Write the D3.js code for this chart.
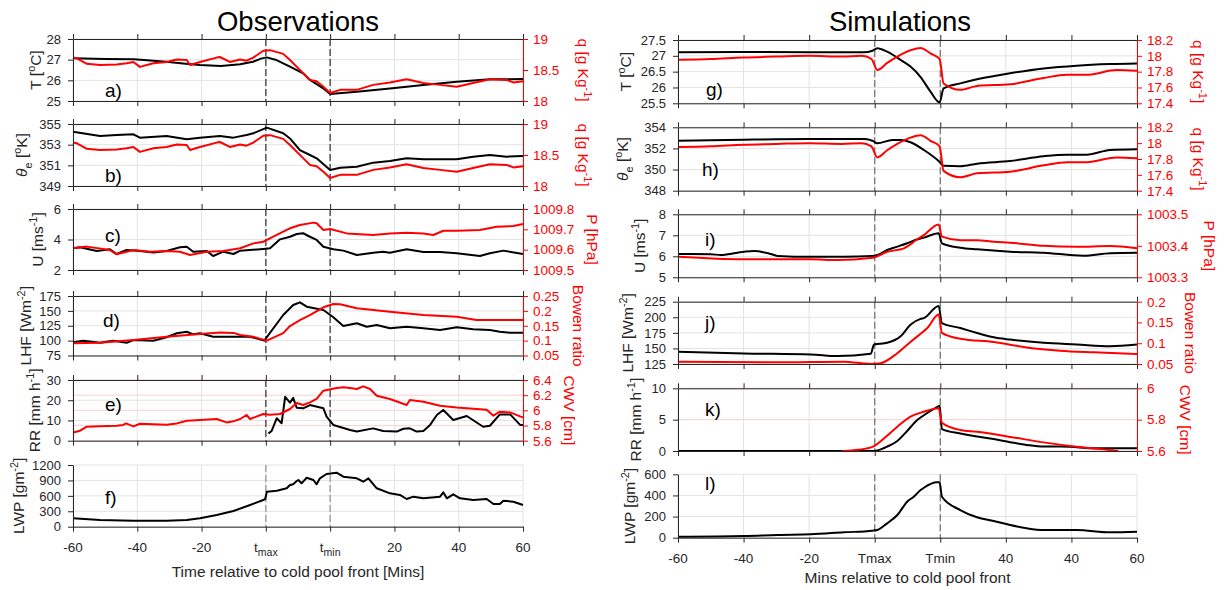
<!DOCTYPE html>
<html><head><meta charset="utf-8">
<script src="https://cdn.jsdelivr.net/npm/d3@7"></script>
<style>
body{margin:0;background:#fff}
text{font-family:"Liberation Sans",Arial,Helvetica,sans-serif}
</style>
</head><body><svg id="chart" width="1225" height="590"></svg>
<script>
// ---------------- DATA ----------------
const obsXTicks = [-60,-40,-20,0,20,40,60,80];
const obsXLabels = ["-60","-40","-20","t_{max}","t_{min}","20","40","60"];
const simXLabels = ["-60","-40","-20","Tmax","Tmin","40","40","60"];
const markerTimes = [0,20];

// Observations
const obsTemp = [[-60,27.07],[-50,27.03],[-41,27.02],[-31,26.9],[-25,26.8],[-20.5,26.74],[-14,26.69],[-8,26.78],[-4,26.9],[-1.5,27.05],[0.3,27.11],[3,27.0],[5.4,26.82],[7.5,26.66],[11.6,26.34],[13.7,26.02],[17.9,25.61],[20,25.34],[28.3,25.45],[38.6,25.61],[49,25.77],[59.4,25.93],[69.7,26.05],[80,26.06]];
const obsQ = [[-60,18.70],[-58.9,18.69],[-55.7,18.60],[-51.6,18.58],[-46.4,18.59],[-43.3,18.61],[-41.2,18.63],[-39.2,18.55],[-35,18.61],[-30.9,18.63],[-27.7,18.67],[-24.6,18.66],[-23.6,18.58],[-20.5,18.63],[-15.3,18.70],[-14.3,18.71],[-11.2,18.63],[-8,18.67],[-6,18.65],[-3.9,18.70],[-0.8,18.81],[1.3,18.82],[5.4,18.76],[7.5,18.66],[11.6,18.45],[13.7,18.34],[15.8,18.32],[17.9,18.23],[20,18.13],[23.1,18.18],[28.3,18.18],[33.4,18.26],[38.6,18.30],[43.8,18.35],[49,18.29],[54.2,18.26],[59.4,18.23],[64.5,18.29],[69.7,18.35],[74.9,18.34],[77,18.30],[80,18.32]];
const obsTheta = [[-60,354.26],[-51.6,353.84],[-46.4,353.94],[-41.2,354.0],[-39.2,353.68],[-30.9,353.84],[-24.6,353.52],[-20.5,353.68],[-14.3,353.84],[-10.1,353.68],[-6,353.94],[-3.9,354.1],[0.3,354.65],[5.4,354.1],[7.5,353.6],[10.6,352.48],[13.7,352.0],[15.8,351.68],[20,350.55],[23.1,350.77],[28.3,350.87],[33.4,351.26],[38.6,351.42],[43.8,351.68],[49,351.58],[54.2,351.58],[59.4,351.58],[64.5,351.84],[69.7,352.0],[74.9,351.84],[80,351.9]];
const obsU = [[-60,3.42],[-57.8,3.49],[-52.6,3.25],[-48.5,3.36],[-46.4,3.05],[-43.3,3.31],[-39.2,3.25],[-35,3.14],[-30.9,3.25],[-26.7,3.49],[-24.6,3.53],[-22.6,3.2],[-18.4,3.25],[-16.4,2.92],[-13.2,3.2],[-10.1,3.05],[-8,3.27],[-0.8,3.38],[1.3,3.42],[4.4,4.01],[7.5,4.18],[9.6,4.36],[11.6,4.41],[13.7,4.18],[15.8,3.97],[17.9,3.53],[21,3.36],[24.1,3.27],[28.3,2.98],[33.4,3.13],[36.5,3.2],[38.6,3.13],[43.8,3.36],[49,3.18],[54.2,3.18],[59.4,3.1],[66.6,2.92],[69.7,3.1],[73.9,3.27],[80,3.05]];
const obsP = [[-60,1009.607],[-55.7,1009.615],[-48.5,1009.598],[-46.4,1009.577],[-41.2,1009.598],[-36,1009.590],[-30.9,1009.593],[-26.7,1009.590],[-23.6,1009.574],[-18.4,1009.590],[-13.2,1009.593],[-8,1009.607],[-3.9,1009.631],[-0.8,1009.639],[2.3,1009.664],[6.5,1009.697],[7.5,1009.705],[10.6,1009.721],[14.8,1009.733],[15.8,1009.730],[17.9,1009.697],[20,1009.702],[25.2,1009.680],[33.4,1009.672],[38.6,1009.680],[43.8,1009.683],[49,1009.680],[52.1,1009.672],[55.2,1009.693],[59.4,1009.693],[66.6,1009.697],[71.8,1009.713],[77,1009.716],[80,1009.726]];
const obsLHF = [[-60,97.2],[-56.8,99.9],[-51.6,96.5],[-47.5,99.9],[-43.3,96.5],[-41.2,101],[-35,99.9],[-30.9,105.6],[-27.7,112.3],[-24.6,115],[-22.6,110.6],[-20.5,112.3],[-16.4,106.6],[-10.1,106.6],[-4.9,106.6],[-0.5,100],[5.4,143.1],[8.5,159.9],[10.6,164.4],[12.7,157],[17.9,151.5],[21,139.2],[24.1,124.6],[28.3,129.1],[31.4,123.4],[34.5,126.3],[38.6,120.7],[43.8,123.4],[49,120.7],[54.2,117.9],[59.4,122.4],[64.5,119],[69.7,117.9],[72.8,115],[76,113.3],[80,113.3]];
const obsBowen = [[-60,0.091],[-51.6,0.093],[-41.2,0.102],[-30.9,0.113],[-20.5,0.122],[-14.3,0.127],[-10,0.126],[-8,0.119],[-3.9,0.113],[0.3,0.1],[5.4,0.125],[7.5,0.149],[10.6,0.169],[13.7,0.186],[17.9,0.212],[21,0.223],[23.1,0.222],[28.3,0.209],[38.6,0.197],[49,0.186],[59.4,0.18],[65.5,0.169],[80,0.169]];
const obsRR = [[0.8,3.6],[1.8,4.8],[3.4,11.1],[4.9,8.6],[6,21.7],[7.5,18.8],[8.5,21.2],[9.6,16.3],[11.6,16.0],[13.7,17.6],[17.9,16.0],[18.9,11.9],[21,7.8],[26.2,5.3],[28.3,4.5],[33.4,6.1],[36.5,4.8],[40.7,4.5],[42.8,5.9],[44.8,6.1],[46.9,4.5],[49,4.8],[51.1,7.8],[53.2,12.7],[55.2,15.2],[58.3,10.2],[62.5,12.2],[67.6,6.9],[69.7,7.4],[72.8,13],[76,13],[79.1,7.8],[80,7.8]];
const obsCWV = [[-59.9,5.709],[-57.8,5.732],[-55.7,5.785],[-51.6,5.789],[-46.4,5.798],[-44.4,5.807],[-43.5,5.828],[-41.2,5.789],[-39.2,5.824],[-30.9,5.811],[-27.7,5.828],[-24.6,5.864],[-20.5,5.873],[-15.3,5.886],[-12.2,5.841],[-10.1,5.855],[-8,5.886],[-6,5.939],[-4.9,5.886],[-0.8,5.952],[1.3,5.943],[4.4,5.952],[7.5,6.018],[9.6,6.097],[11.6,6.071],[13.7,6.105],[15.8,6.15],[17.9,6.259],[22,6.294],[24.1,6.303],[26.2,6.294],[28.3,6.281],[30.3,6.316],[32.4,6.281],[34.5,6.193],[38.6,6.15],[43.8,6.071],[44.8,6.136],[49,6.114],[54.2,6.061],[59.4,6.039],[68.7,6.009],[70.8,5.93],[72.8,5.982],[76,5.973],[79.1,5.92],[80,5.907]];
const obsLWP = [[-60,163],[-51.6,130],[-41.2,117],[-30.9,117],[-24.6,130],[-20.5,163],[-15.3,228],[-10.1,305],[-4.9,422],[-0.8,519],[-0.2,540],[0.3,681],[3.4,700],[6.5,747],[7.5,811],[8.5,825],[9.6,889],[10.1,908],[11.1,844],[12.7,953],[14.8,908],[15.8,825],[16.8,941],[18.9,1025],[22,1050],[24.1,973],[28.3,941],[30.3,875],[31.9,941],[34.5,747],[38.6,649],[41.7,617],[43.8,539],[45.9,584],[49,552],[54.2,584],[55.2,669],[56.3,552],[58.3,630],[60.4,552],[64.5,519],[68.7,539],[70.8,441],[72.8,441],[73.9,506],[77,486],[80,422]];

// Simulations
const simT = [[-60,27.11],[-40,27.12],[-20,27.11],[-3.3,27.11],[-0.7,27.16],[0.8,27.24],[3.8,27.13],[7.9,26.87],[10.9,26.66],[14,26.33],[17,25.87],[19.8,25.53],[21,25.97],[26.1,26.13],[31.2,26.26],[41.3,26.45],[51.5,26.6],[61.6,26.69],[71.8,26.74],[80,26.76]];
const simQ = [[-60,17.95],[-50,17.96],[-40,17.98],[-30,17.99],[-20,18.0],[-10,17.99],[-4,18.0],[-1,17.96],[0.8,17.82],[3.8,17.91],[6.9,17.99],[10.9,18.07],[14,18.1],[17,18.03],[19.8,17.96],[21,17.65],[26.1,17.57],[31.2,17.62],[41.3,17.64],[51.5,17.72],[58.6,17.76],[64.7,17.76],[73.8,17.82],[80,17.81]];
const simTheta = [[-60,352.73],[-40,352.83],[-20,352.89],[-3,352.89],[-0.7,352.73],[0.8,352.49],[5.4,352.8],[7.9,352.8],[10.9,352.58],[15,351.85],[19.8,350.72],[21,350.35],[26.1,350.31],[31.2,350.56],[41.3,350.81],[51.5,351.26],[58.6,351.41],[64.7,351.41],[71.8,351.85],[80,351.92]];
const simU = [[-60,6.11],[-50,6.1],[-47,6.06],[-39.8,6.22],[-36.8,6.25],[-31.7,6.11],[-29.7,6.02],[-19.5,5.98],[-9.4,5.98],[-0.7,6.01],[0.8,6.06],[3.8,6.3],[6.9,6.46],[9.9,6.62],[12.9,6.8],[15,6.89],[19.5,7.1],[20.5,6.62],[26.1,6.41],[31.2,6.33],[41.3,6.22],[51.5,6.17],[63.7,6.03],[71.8,6.15],[80,6.17]];
const simP = [[-60,1003.365],[-39.8,1003.357],[-19.5,1003.357],[-11.4,1003.355],[-0.7,1003.362],[3.8,1003.381],[8.9,1003.392],[12.9,1003.42],[15,1003.434],[19.5,1003.468],[20.5,1003.429],[26.1,1003.418],[31.2,1003.418],[36.3,1003.413],[41.3,1003.41],[51.5,1003.40],[61.6,1003.397],[71.8,1003.399],[80,1003.392]];
const simLHF = [[-60,144.7],[-39.8,142],[-19.5,140.4],[-11.4,137.7],[-1.2,141.5],[-0.2,156.3],[3.8,159],[7.9,169.4],[10.9,188],[14,197.5],[15,198.6],[19.5,218.2],[20.5,190.7],[26.1,182.8],[31.2,174.8],[36.3,167.9],[41.3,164.2],[51.5,159],[61.6,156.3],[71.8,153.6],[80,156.3]];
const simBowen = [[-60,0.0556],[-29.7,0.054],[-9.4,0.0556],[-1.2,0.05],[1.8,0.052],[5.9,0.07],[10.9,0.103],[14,0.123],[16,0.136],[19.5,0.169],[20.5,0.125],[26.1,0.111],[36.3,0.103],[46.4,0.09],[56.6,0.082],[66.7,0.078],[80,0.074]];
const simRR = [[-60,0],[-0.7,0],[0.8,0.1],[3.8,0.7],[6.9,1.6],[9.9,3.2],[12.9,4.9],[15,5.7],[19,7.0],[19.8,7.2],[20.5,3.5],[26.1,2.8],[31.2,2.3],[36.3,1.9],[41.3,1.4],[46.4,0.96],[51.5,0.7],[56.6,0.7],[61.6,0.6],[66.7,0.43],[80,0.43]];
const simCWV = [[-9.9,5.6],[-5,5.608],[-0.7,5.626],[2.8,5.68],[6.9,5.755],[10.9,5.82],[15,5.85],[19.5,5.872],[20.5,5.78],[26.1,5.734],[31.2,5.723],[41.3,5.69],[51.5,5.655],[61.6,5.627],[71.8,5.606],[74.3,5.6]];
const simLWP = [[-60,9.5],[-39.8,16],[-29.7,26],[-19.5,32],[-9.4,51],[-0.7,66],[0.8,73],[3.8,136],[6.9,215],[9.9,341],[11.9,388],[14,451],[15,473],[19,524],[19.8,524],[20.5,388],[26.1,262],[31.2,193],[36.3,158],[41.3,120],[46.4,89],[51.5,73],[61.6,73],[71.8,51],[80,57]];

// tick values
const tkObsT=[25,26,27,28], tkObsQ=[18,18.5,19], tkObsTh=[349,351,353,355], tkObsU=[2,4,6], tkObsP=[1009.5,1009.6,1009.7,1009.8],
      tkObsLHF=[75,100,125,150,175], tkObsB=[0.05,0.1,0.15,0.2,0.25], tkObsRR=[0,10,20,30], tkObsCWV=[5.6,5.8,6,6.2,6.4], tkObsLWP=[0,300,600,900,1200];
const tkSimT=[25.5,26,26.5,27,27.5], tkSimQ=[17.4,17.6,17.8,18,18.2], tkSimTh=[348,350,352,354], tkSimU=[5,6,7,8], tkSimP=[1003.3,1003.4,1003.5],
      tkSimLHF=[125,150,175,200,225], tkSimB=[0.05,0.1,0.15,0.2], tkSimRR=[0,5,10], tkSimCWV=[5.6,5.8,6], tkSimLWP=[0,200,400,600];

// ---------------- LAYOUT ----------------
const cols = [
  {x0:73, x1:523, labels:obsXLabels, title:"Observations", titleX:298, xTitle:"Time relative to cold pool front [Mins]", xTitleY:577, dash:"#3c3c3c", smooth:false},
  {x0:678, x1:1137, labels:simXLabels, title:"Simulations", titleX:900, xTitle:"Mins relative to cold pool front", xTitleY:583, dash:"#777", smooth:true}
];
const panels = [
  {col:0,y0:39,y1:101,letter:"a)",lp:[105,97],L:{dom:[25,28],ticks:tkObsT,label:"T [^{o}C]",off:-32,data:obsTemp},R:{dom:[18,19],ticks:tkObsQ,label:"q [g Kg^{-1}]",off:55,data:obsQ}},
  {col:0,y0:124,y1:186,letter:"b)",lp:[105,182],L:{dom:[349,355],ticks:tkObsTh,label:"θ_{e} [^{o}K]",off:-46,data:obsTheta},R:{dom:[18,19],ticks:tkObsQ,label:"q [g Kg^{-1}]",off:55,data:obsQ}},
  {col:0,y0:209,y1:270,letter:"c)",lp:[105,242],L:{dom:[2,6],ticks:tkObsU,label:"U [ms^{-1}]",off:-30,data:obsU},R:{dom:[1009.5,1009.8],ticks:tkObsP,label:"P [hPa]",off:64,data:obsP}},
  {col:0,y0:296,y1:355.5,letter:"d)",lp:[103,327],L:{dom:[75,175],ticks:tkObsLHF,label:"LHF [Wm^{-2}]",off:-42,data:obsLHF},R:{dom:[0.05,0.25],ticks:tkObsB,label:"Bowen ratio",off:50,data:obsBowen}},
  {col:0,y0:380,y1:440.7,letter:"e)",lp:[105,411],L:{dom:[0,30],ticks:tkObsRR,label:"RR [mm h^{-1}]",off:-33,data:obsRR},R:{dom:[5.6,6.4],ticks:tkObsCWV,label:"CWV [cm]",off:41,data:obsCWV,grid:true}},
  {col:0,y0:465,y1:526.7,letter:"f)",lp:[105,504],last:true,L:{dom:[0,1200],ticks:tkObsLWP,label:"LWP [gm^{-2}]",off:-49,data:obsLWP},R:null},
  {col:1,y0:40,y1:103.3,letter:"g)",lp:[706,96],L:{dom:[25.5,27.5],ticks:tkSimT,label:"T [^{o}C]",off:-47,data:simT},R:{dom:[17.4,18.2],ticks:tkSimQ,label:"q [g Kg^{-1}]",off:56,data:simQ}},
  {col:1,y0:127.3,y1:190.7,letter:"h)",lp:[702,176],L:{dom:[348,354],ticks:tkSimTh,label:"θ_{e} [^{o}K]",off:-50,data:simTheta},R:{dom:[17.4,18.2],ticks:tkSimQ,label:"q [g Kg^{-1}]",off:56,data:simQ}},
  {col:1,y0:214.3,y1:277.3,letter:"i)",lp:[705,246],L:{dom:[5,8],ticks:tkSimU,label:"U [ms^{-1}]",off:-33,data:simU},R:{dom:[1003.3,1003.5],ticks:tkSimP,label:"P [hPa]",off:67,data:simP}},
  {col:1,y0:301.7,y1:364,letter:"j)",lp:[705,329],L:{dom:[125,225],ticks:tkSimLHF,label:"LHF [Wm^{-2}]",off:-45,data:simLHF},R:{dom:[0.05,0.2],ticks:tkSimB,label:"Bowen ratio",off:48,data:simBowen}},
  {col:1,y0:388.3,y1:451,letter:"k)",lp:[705,416],L:{dom:[0,10],ticks:tkSimRR,label:"RR [mm h^{-1}]",off:-37,data:simRR},R:{dom:[5.6,6],ticks:tkSimCWV,label:"CWV [cm]",off:43,data:simCWV,grid:true}},
  {col:1,y0:474.3,y1:537.7,letter:"l)",lp:[705,490],last:true,L:{dom:[0,600],ticks:tkSimLWP,label:"LWP [gm^{-2}]",off:-43,data:simLWP},R:null}
];

const AX="#262626", RED="#ff0000";
const svg = d3.select("#chart");
const fmt = d3.format("~g");

function rich(textSel, str, size, subScale){
  const sc = subScale || 0.7;
  const parts = str.split(/(\^\{[^}]*\}|_\{[^}]*\})/).filter(s=>s.length);
  let cur=0;
  parts.forEach(p=>{
    let t=p, sh=0, fs=size;
    if(p.startsWith("^{")){t=p.slice(2,-1); sh=-0.4*size; fs=size*sc;}
    else if(p.startsWith("_{")){t=p.slice(2,-1); sh=0.35*size; fs=size*sc;}
    const ts=textSel.append("tspan").attr("font-size",fs).attr("dy",sh-cur).text(t);
    if(t==="θ") ts.attr("font-style","italic");
    cur=sh;
  });
}

cols.forEach(c=>{
  svg.append("text").attr("x",c.titleX).attr("y",31).attr("text-anchor","middle")
    .attr("font-size",27.5).attr("fill","#000").text(c.title);
  svg.append("text").attr("x",(c.x0+c.x1)/2).attr("y",c.xTitleY).attr("text-anchor","middle")
    .attr("font-size",15.5).attr("fill",AX).text(c.xTitle);
});

panels.forEach(p=>{
  const c = cols[p.col];
  const x = d3.scaleLinear().domain([-60,80]).range([c.x0,c.x1]);
  const yL = d3.scaleLinear().domain(p.L.dom).range([p.y1,p.y0]);
  const yR = p.R ? d3.scaleLinear().domain(p.R.dom).range([p.y1,p.y0]) : null;
  const g = svg.append("g");

  // grid
  g.selectAll(".gx").data(obsXTicks).enter().append("line")
    .attr("x1",d=>x(d)).attr("x2",d=>x(d)).attr("y1",p.y0).attr("y2",p.y1)
    .attr("stroke","#e3e3e3").attr("stroke-width",1);
  g.selectAll(".gy").data(p.L.ticks).enter().append("line")
    .attr("x1",c.x0).attr("x2",c.x1).attr("y1",d=>yL(d)).attr("y2",d=>yL(d))
    .attr("stroke","#e3e3e3").attr("stroke-width",1);
  if(p.R && p.R.grid){
    g.selectAll(".gr").data(p.R.ticks).enter().append("line")
      .attr("x1",c.x0).attr("x2",c.x1).attr("y1",d=>yR(d)).attr("y2",d=>yR(d))
      .attr("stroke","#ffd2d2").attr("stroke-width",1);
  }

  // marker dashed lines
  g.selectAll(".mk").data(markerTimes).enter().append("line")
    .attr("x1",d=>x(d)).attr("x2",d=>x(d)).attr("y1",p.y0).attr("y2",p.y1)
    .attr("stroke",p.last && p.col===0 ? "#999" : c.dash).attr("stroke-width",1.3)
    .attr("stroke-dasharray","7,3");

  const curve = c.smooth ? d3.curveMonotoneX : d3.curveLinear;
  const lineL = d3.line().x(d=>x(d[0])).y(d=>yL(d[1])).curve(curve);
  g.append("path").datum(p.L.data).attr("d",lineL).attr("fill","none")
    .attr("stroke","#000").attr("stroke-width",2).attr("stroke-linejoin","round");
  if(p.R){
    const lineR = d3.line().x(d=>x(d[0])).y(d=>yR(d[1])).curve(curve);
    g.append("path").datum(p.R.data).attr("d",lineR).attr("fill","none")
      .attr("stroke",RED).attr("stroke-width",2).attr("stroke-linejoin","round");
  }

  // axes
  const ax = g.append("g").attr("transform",`translate(${c.x0},0)`)
    .call(d3.axisLeft(yL).tickValues(p.L.ticks).tickSize(5).tickSizeOuter(0).tickPadding(7).tickFormat(fmt));
  ax.attr("color",AX).attr("font-size",13).attr("font-family",null);
  const bx = g.append("g").attr("transform",`translate(0,${p.y1})`)
    .call(d3.axisBottom(x).tickValues(obsXTicks).tickSize(5).tickSizeOuter(0).tickFormat(""));
  bx.attr("color",AX);
  if(p.R){
    const tx = g.append("g").attr("transform",`translate(0,${p.y0})`)
      .call(d3.axisTop(x).tickValues(obsXTicks).tickSize(5).tickSizeOuter(0).tickFormat(""));
    tx.attr("color",AX);
    const rx = g.append("g").attr("transform",`translate(${c.x1},0)`)
      .call(d3.axisRight(yR).tickValues(p.R.ticks).tickSize(5).tickSizeOuter(0).tickPadding(5).tickFormat(fmt));
    rx.attr("color",RED).attr("font-size",13.5).attr("font-family",null);
    const rl = g.append("text").attr("transform",`translate(${c.x1+p.R.off},${(p.y0+p.y1)/2}) rotate(90)`)
      .attr("text-anchor","middle").attr("fill",RED).attr("font-size",15.5).style("white-space","pre");
    rich(rl, p.R.label, 15.5);
  }
  g.selectAll(".domain").attr("stroke-width",1);

  // left label
  const ll = g.append("text").attr("transform",`translate(${c.x0+p.L.off},${(p.y0+p.y1)/2}) rotate(-90)`)
    .attr("text-anchor","middle").attr("fill",AX).attr("font-size",15.5).style("white-space","pre");
  rich(ll, p.L.label, 15.5);

  // panel letter
  g.append("text").attr("x",p.lp[0]).attr("y",p.lp[1]).attr("font-size",19).attr("fill","#000").text(p.letter);

  // x tick labels
  if(p.last){
    obsXTicks.forEach((t,i)=>{
      const tl = g.append("text").attr("x",x(t)).attr("y",p.y1+25).attr("text-anchor","middle")
        .attr("fill",AX).attr("font-size",13.5).style("white-space","pre");
      rich(tl, c.labels[i], 13.5, 0.78);
    });
  }
});
</script></body></html>
